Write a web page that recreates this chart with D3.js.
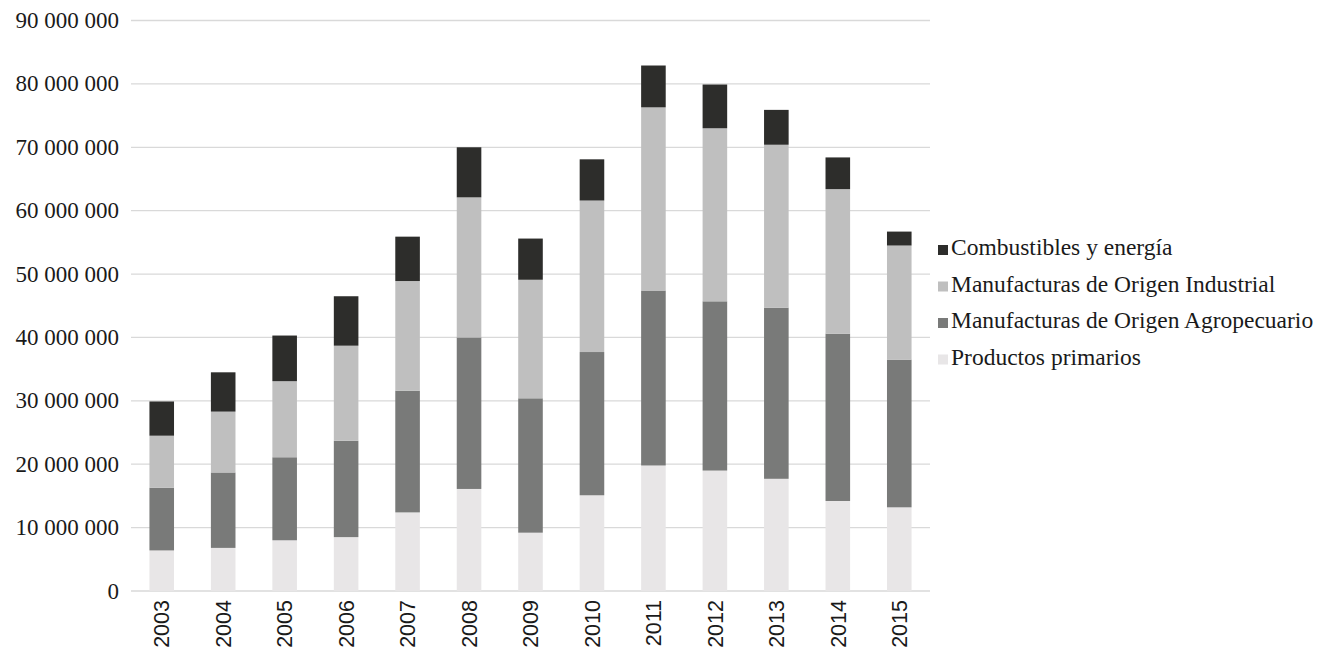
<!DOCTYPE html>
<html><head><meta charset="utf-8">
<script src="https://cdn.jsdelivr.net/npm/d3@7"></script>
<style>body{margin:0;background:#fff;} svg{display:block;}</style>
</head><body>
<svg id="c" width="1329" height="648"></svg>
<script>
const years = ["2003","2004","2005","2006","2007","2008","2009","2010","2011","2012","2013","2014","2015"];
const productosPrimarios = [6.4, 6.8, 8.0, 8.5, 12.4, 16.1, 9.2, 15.1, 19.8, 19.0, 17.7, 14.2, 13.2];
const manufacturasAgro = [9.9, 11.9, 13.1, 15.2, 19.2, 23.9, 21.2, 22.6, 27.6, 26.7, 27.0, 26.4, 23.3];
const manufacturasIndustrial = [8.2, 9.6, 12.0, 15.0, 17.3, 22.1, 18.7, 23.9, 28.9, 27.3, 25.7, 22.8, 18.0];
const combustibles = [5.4, 6.2, 7.2, 7.8, 7.0, 7.9, 6.5, 6.5, 6.6, 6.9, 5.5, 5.0, 2.2];
const seriesNames = ["Productos primarios","Manufacturas de Origen Agropecuario","Manufacturas de Origen Industrial","Combustibles y energía"];
const yTicks = [0,10000000,20000000,30000000,40000000,50000000,60000000,70000000,80000000,90000000];
const colors = ["#e8e6e7","#797a79","#bfbfbf","#2d2d2b"];

const seriesData = [productosPrimarios, manufacturasAgro, manufacturasIndustrial, combustibles];
const rows = years.map((y,i)=>{
  const r = {year:y};
  seriesNames.forEach((s,k)=>{ r[s] = seriesData[k][i]*1e6; });
  return r;
});
const stack = d3.stack().keys(seriesNames)(rows);

const svg = d3.select("#c");
const x = d3.scaleBand().domain(years).range([131,930]).paddingInner(0.6).paddingOuter(0.3);
const y = d3.scaleLinear().domain([0,90000000]).range([591,20.5]);

const fmt = v => d3.format(",")(v).replace(/,/g," ");

// gridlines
svg.append("g").selectAll("line").data(yTicks).join("line")
  .attr("x1",131).attr("x2",930)
  .attr("y1",d=>y(d)).attr("y2",d=>y(d))
  .attr("stroke","#d9d9d9").attr("stroke-width",1.3);

// y labels
svg.append("g").selectAll("text").data(yTicks).join("text")
  .attr("x",119).attr("y",d=>y(d)).attr("dy","0.33em")
  .attr("text-anchor","end")
  .attr("font-family","'Liberation Serif', 'Times New Roman', serif")
  .attr("font-size",23).attr("fill","#1a1a1a")
  .text(d=>fmt(d));

// bars
svg.append("g").selectAll("g").data(stack).join("g")
  .attr("fill",(d,i)=>colors[i])
  .selectAll("rect").data(d=>d).join("rect")
  .attr("x",d=>x(d.data.year)).attr("width",x.bandwidth())
  .attr("y",d=>y(d[1])).attr("height",d=>y(d[0])-y(d[1]));

// x labels
svg.append("g").selectAll("text").data(years).join("text")
  .attr("transform",d=>`translate(${x(d)+x.bandwidth()/2},600) rotate(-90)`)
  .attr("text-anchor","end").attr("dy","0.36em")
  .attr("font-family","'Liberation Sans Narrow', 'Liberation Sans', sans-serif")
  .attr("font-size",21.5).attr("fill","#1a1a1a")
  .text(d=>d);

// legend
const legendOrder = [3,2,1,0];
const lg = svg.append("g");
legendOrder.forEach((k,j)=>{
  const by = 255 + j*36.5;
  lg.append("rect").attr("x",938).attr("y",by-10).attr("width",10).attr("height",10).attr("fill",colors[k]);
  lg.append("text").attr("x",951).attr("y",by)
    .attr("font-family","'Liberation Serif', 'Times New Roman', serif")
    .attr("font-size",23.5).attr("fill","#1a1a1a")
    .text(seriesNames[k]);
});
</script>
</body></html>
